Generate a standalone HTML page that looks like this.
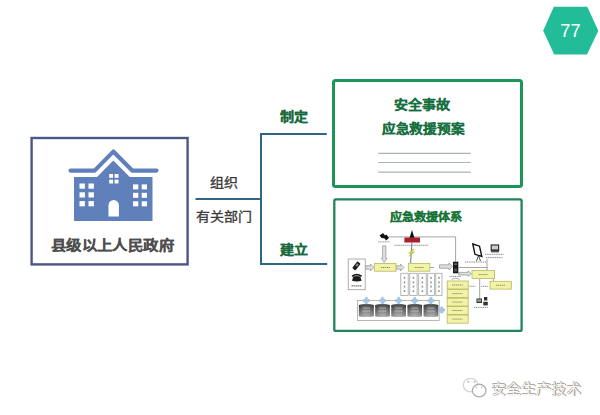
<!DOCTYPE html>
<html lang="zh-CN">
<head>
<meta charset="utf-8">
<style>
html,body{margin:0;padding:0;}
body{width:600px;height:415px;position:relative;overflow:hidden;background:#fff;font-family:"Liberation Sans",sans-serif;}
.t{position:absolute;white-space:nowrap;line-height:1;}
.c{transform:scaleY(0.92);transform-origin:50% 55%;}
svg{position:absolute;left:0;top:0;}
</style>
</head>
<body>
<svg width="600" height="415" viewBox="0 0 600 415">
  <!-- hexagon -->
  <polygon points="553.8,6.7 587.3,6.7 598.3,30.7 587,54.6 554.2,54.6 543.2,30.7" fill="#22bd98"/>
  <!-- left box -->
  <rect x="31.6" y="138" width="156" height="126.4" fill="none" stroke="#4b5887" stroke-width="2.4"/>
  <!-- house -->
  <g fill="#6080bc">
    <path d="M70.5,170.6 L94.6,170.6 L113.3,151.6 L132.2,170.6 L156.5,170.6" fill="none" stroke="#6080bc" stroke-width="4.2" stroke-linecap="round" stroke-linejoin="round"/>
    <path d="M74,177 L97,177 L113.3,160.6 L129.8,177 L152.5,177 L152.5,221 L74,221 Z"/>
  </g>
  <g fill="#fff">
    <rect x="79.5" y="183.5" width="5.4" height="5.2"/><rect x="88.5" y="183.5" width="5.4" height="5.2"/>
    <rect x="79.5" y="192.3" width="5.4" height="5.2"/><rect x="88.5" y="192.3" width="5.4" height="5.2"/>
    <rect x="79.5" y="201.1" width="5.4" height="5.2"/><rect x="88.5" y="201.1" width="5.4" height="5.2"/>
    <rect x="133" y="184.4" width="5.3" height="5"/><rect x="141.7" y="184.4" width="5.3" height="5"/>
    <rect x="133" y="192.8" width="5.3" height="5"/><rect x="141.7" y="192.8" width="5.3" height="5"/>
    <rect x="133" y="201.3" width="5.3" height="5"/><rect x="141.7" y="201.3" width="5.3" height="5"/>
    <rect x="109.2" y="174" width="3.9" height="3.8"/><rect x="114.6" y="174" width="3.9" height="3.8"/>
    <rect x="109.2" y="179.7" width="3.9" height="3.8"/><rect x="114.6" y="179.7" width="3.9" height="3.8"/>
    <path d="M108.5,216.5 L108.5,205.5 A5.2,5.5 0 0 1 118.9,205.5 L118.9,216.5 Z"/>
  </g>
  <!-- connectors -->
  <g stroke="#2e6686" stroke-width="2" fill="none">
    <line x1="195.5" y1="199" x2="261" y2="199"/>
    <polyline points="326.8,134 261,134 261,264 327.2,264"/>
  </g>
  <!-- right box 1 -->
  <rect x="333.5" y="80.5" width="188" height="106" rx="2" fill="none" stroke="#1b9658" stroke-width="3"/>
  <g stroke="#a9b5b5" stroke-width="1.2">
    <line x1="378.2" y1="153.3" x2="470.8" y2="153.3"/>
    <line x1="378.2" y1="162.5" x2="470.8" y2="162.5"/>
    <line x1="378.2" y1="172.1" x2="470.8" y2="172.1"/>
  </g>
  <!-- right box 2 -->
  <rect x="334.3" y="199.4" width="187.3" height="131.5" rx="1.5" fill="none" stroke="#22845a" stroke-width="2.3"/>

  <!-- diagram -->
  <defs>
    <linearGradient id="cyl" x1="0" x2="0" y1="0" y2="1">
      <stop offset="0" stop-color="#333"/>
      <stop offset="0.4" stop-color="#6e6e6e"/>
      <stop offset="1" stop-color="#b2b2b2"/>
    </linearGradient>
    <linearGradient id="cylh" x1="0" x2="1" y1="0" y2="0">
      <stop offset="0" stop-color="#000" stop-opacity="0.25"/>
      <stop offset="0.5" stop-color="#fff" stop-opacity="0.08"/>
      <stop offset="1" stop-color="#000" stop-opacity="0.25"/>
    </linearGradient>
  </defs>
  <g fill="none" stroke="#9c9c9c" stroke-width="0.9">
    <polyline points="388.5,236.9 455.6,236.9 455.6,261.7"/>
    <line x1="411.9" y1="242.5" x2="410.6" y2="263" stroke="#666"/>
    <line x1="458.5" y1="267.5" x2="487.5" y2="267.5"/>
    <line x1="487" y1="258.8" x2="487" y2="270.4"/>
    <line x1="479.7" y1="278.4" x2="479.7" y2="299"/>
    <line x1="493.5" y1="278.4" x2="493.5" y2="281"/>
    <line x1="430" y1="267.5" x2="434" y2="267.5"/>
  </g>
  <!-- hollow arrows -->
  <g fill="#e0e0e0" stroke="#9a9a9a" stroke-width="0.8">
    <path d="M382.6,245.8 L385.8,245.8 L385.8,258.3 L387.1,258.3 L384.2,262.4 L381.3,258.3 L382.6,258.3 Z"/>
    <path d="M365.8,265.8 L370.5,265.8 L370.5,264 L374,267.5 L370.5,271 L370.5,269.2 L365.8,269.2 Z"/>
    <path d="M396.3,265.8 L400.5,265.8 L400.5,264 L404,267.5 L400.5,271 L400.5,269.2 L396.3,269.2 Z"/>
    <path d="M439.5,264.8 L449,264.8 L449,263 L452.6,266.5 L449,270 L449,268.2 L439.5,268.2 Z"/>
    <path d="M458.8,272.4 L468,272.4 L468,271 L471.5,273.7 L468,276.4 L468,275 L458.8,275 Z"/>
  </g>
  <!-- yellow boxes -->
  <g fill="#f1f3a8" stroke="#b8b85c" stroke-width="0.8">
    <rect x="374.6" y="263.4" width="21.4" height="7.8"/>
    <rect x="408.3" y="263.4" width="21.5" height="7.8"/>
    <rect x="472" y="270.6" width="22.6" height="7.8"/>
    <rect x="490" y="281.3" width="21.3" height="7.8"/>
    <rect x="447.2" y="281" width="21" height="8"/>
    <rect x="447.2" y="289.6" width="21" height="8"/>
    <rect x="447.2" y="298.2" width="21" height="7.8"/>
    <rect x="447.2" y="306.6" width="21" height="7.8"/>
    <rect x="447.2" y="315" width="21" height="8.2"/>
  </g>
  <!-- tiny text marks in yellow boxes -->
  <g stroke="#9a8a55" stroke-width="1" stroke-dasharray="1.3 0.6">
    <line x1="381" y1="267.5" x2="390" y2="267.5"/>
    <line x1="414.5" y1="267.5" x2="423.5" y2="267.5"/>
    <line x1="478.5" y1="274.6" x2="488" y2="274.6"/>
    <line x1="496" y1="285.3" x2="505.5" y2="285.3"/>
    <line x1="452" y1="285" x2="463" y2="285"/>
    <line x1="452.5" y1="293.6" x2="462.5" y2="293.6"/>
    <line x1="452.5" y1="302.1" x2="462.5" y2="302.1"/>
    <line x1="452.5" y1="310.5" x2="462.5" y2="310.5"/>
    <line x1="452.5" y1="319.1" x2="462.5" y2="319.1"/>
  </g>
  <!-- phones box -->
  <rect x="348.2" y="259" width="17" height="30.7" fill="#fff" stroke="#9a9a9a" stroke-width="0.8"/>
  <g fill="#1c1c1c">
    <rect x="354.3" y="261.6" width="4.2" height="8.6" rx="1" transform="rotate(38 356.4 265.9)"/>
    <rect x="355.2" y="263.4" width="2.3" height="2.6" fill="#888" transform="rotate(38 356.4 265.9)"/>
    <path d="M352,280.8 L353.3,276.6 Q356.8,275.3 360.3,276.6 L361.6,280.8 Q356.8,282.3 352,280.8 Z"/>
    <path d="M351.6,275.6 Q356.8,271.8 362,275.6 L361.2,277 Q356.8,274.2 352.4,277 Z"/>
  </g>
  <line x1="351.5" y1="285.8" x2="362" y2="285.8" stroke="#7a7a7a" stroke-width="1.2" stroke-dasharray="1.5 0.5"/>
  <!-- vertical columns -->
  <g fill="#fff" stroke="#a5a5a5" stroke-width="0.8">
    <rect x="400.8" y="273.3" width="7.4" height="22.2"/>
    <rect x="409.8" y="273.3" width="7.3" height="22.2"/>
    <rect x="418.7" y="273.3" width="7.5" height="22.2"/>
    <rect x="427.7" y="273.3" width="6.7" height="22.2"/>
    <rect x="435.8" y="273.3" width="6.2" height="22.2"/>
  </g>
  <g stroke="#8a8a8a" stroke-width="1.5" stroke-dasharray="1.8 2.6">
    <line x1="404.5" y1="277" x2="404.5" y2="292"/>
    <line x1="413.4" y1="277" x2="413.4" y2="292"/>
    <line x1="422.4" y1="277" x2="422.4" y2="292"/>
    <line x1="431" y1="277" x2="431" y2="292"/>
    <line x1="438.9" y1="277" x2="438.9" y2="292"/>
  </g>
  <!-- cylinders container -->
  <rect x="357.5" y="300.5" width="81.7" height="20" fill="#fff" stroke="#a5a5a5" stroke-width="0.8"/>
  <g><path d="M358.9,305 Q366.35,302.8 373.8,305 L373.8,316.2 Q366.35,318 358.9,316.2 Z" fill="url(#cyl)"/><path d="M358.9,305 Q366.35,302.8 373.8,305 L373.8,316.2 Q366.35,318 358.9,316.2 Z" fill="url(#cylh)"/><path d="M375.2,305 Q382.5,302.8 389.8,305 L389.8,316.2 Q382.5,318 375.2,316.2 Z" fill="url(#cyl)"/><path d="M375.2,305 Q382.5,302.8 389.8,305 L389.8,316.2 Q382.5,318 375.2,316.2 Z" fill="url(#cylh)"/><path d="M391.3,305 Q398.6,302.8 405.9,305 L405.9,316.2 Q398.6,318 391.3,316.2 Z" fill="url(#cyl)"/><path d="M391.3,305 Q398.6,302.8 405.9,305 L405.9,316.2 Q398.6,318 391.3,316.2 Z" fill="url(#cylh)"/><path d="M407.5,305 Q414.75,302.8 422,305 L422,316.2 Q414.75,318 407.5,316.2 Z" fill="url(#cyl)"/><path d="M407.5,305 Q414.75,302.8 422,305 L422,316.2 Q414.75,318 407.5,316.2 Z" fill="url(#cylh)"/><path d="M423.6,305 Q430.95000000000005,302.8 438.3,305 L438.3,316.2 Q430.95000000000005,318 423.6,316.2 Z" fill="url(#cyl)"/><path d="M423.6,305 Q430.95000000000005,302.8 438.3,305 L438.3,316.2 Q430.95000000000005,318 423.6,316.2 Z" fill="url(#cylh)"/></g>
  <g fill="#d8d8d8" opacity="0.55"><rect x="362.85" y="307.5" width="7" height="1.1"/><rect x="362.35" y="310.5" width="8" height="1.1"/><rect x="379.0" y="307.5" width="7" height="1.1"/><rect x="378.5" y="310.5" width="8" height="1.1"/><rect x="395.1" y="307.5" width="7" height="1.1"/><rect x="394.6" y="310.5" width="8" height="1.1"/><rect x="411.25" y="307.5" width="7" height="1.1"/><rect x="410.75" y="310.5" width="8" height="1.1"/><rect x="427.45000000000005" y="307.5" width="7" height="1.1"/><rect x="426.95000000000005" y="310.5" width="8" height="1.1"/></g>
  <!-- blue diamonds -->
  <g fill="#a9c8e6" stroke="#7ea6cf" stroke-width="0.4"><path d="M366.35,296.80 L367.95,298.40 L367.25,298.40 L367.25,299.70 L368.55,299.70 L368.55,299.00 L370.15,300.60 L368.55,302.20 L368.55,301.50 L367.25,301.50 L367.25,302.80 L367.95,302.80 L366.35,304.40 L364.75,302.80 L365.45,302.80 L365.45,301.50 L364.15,301.50 L364.15,302.20 L362.55,300.60 L364.15,299.00 L364.15,299.70 L365.45,299.70 L365.45,298.40 L364.75,298.40 Z"/><path d="M382.50,296.80 L384.10,298.40 L383.40,298.40 L383.40,299.70 L384.70,299.70 L384.70,299.00 L386.30,300.60 L384.70,302.20 L384.70,301.50 L383.40,301.50 L383.40,302.80 L384.10,302.80 L382.50,304.40 L380.90,302.80 L381.60,302.80 L381.60,301.50 L380.30,301.50 L380.30,302.20 L378.70,300.60 L380.30,299.00 L380.30,299.70 L381.60,299.70 L381.60,298.40 L380.90,298.40 Z"/><path d="M398.60,296.80 L400.20,298.40 L399.50,298.40 L399.50,299.70 L400.80,299.70 L400.80,299.00 L402.40,300.60 L400.80,302.20 L400.80,301.50 L399.50,301.50 L399.50,302.80 L400.20,302.80 L398.60,304.40 L397.00,302.80 L397.70,302.80 L397.70,301.50 L396.40,301.50 L396.40,302.20 L394.80,300.60 L396.40,299.00 L396.40,299.70 L397.70,299.70 L397.70,298.40 L397.00,298.40 Z"/><path d="M414.75,296.80 L416.35,298.40 L415.65,298.40 L415.65,299.70 L416.95,299.70 L416.95,299.00 L418.55,300.60 L416.95,302.20 L416.95,301.50 L415.65,301.50 L415.65,302.80 L416.35,302.80 L414.75,304.40 L413.15,302.80 L413.85,302.80 L413.85,301.50 L412.55,301.50 L412.55,302.20 L410.95,300.60 L412.55,299.00 L412.55,299.70 L413.85,299.70 L413.85,298.40 L413.15,298.40 Z"/><path d="M430.95,296.80 L432.55,298.40 L431.85,298.40 L431.85,299.70 L433.15,299.70 L433.15,299.00 L434.75,300.60 L433.15,302.20 L433.15,301.50 L431.85,301.50 L431.85,302.80 L432.55,302.80 L430.95,304.40 L429.35,302.80 L430.05,302.80 L430.05,301.50 L428.75,301.50 L428.75,302.20 L427.15,300.60 L428.75,299.00 L428.75,299.70 L430.05,299.70 L430.05,298.40 L429.35,298.40 Z"/><path d="M441.70,306.40 L443.30,308.00 L442.60,308.00 L442.60,309.10 L443.70,309.10 L443.70,308.40 L445.30,310.00 L443.70,311.60 L443.70,310.90 L442.60,310.90 L442.60,312.00 L443.30,312.00 L441.70,313.60 L440.10,312.00 L440.80,312.00 L440.80,310.90 L439.70,310.90 L439.70,311.60 L438.10,310.00 L439.70,308.40 L439.70,309.10 L440.80,309.10 L440.80,308.00 L440.10,308.00 Z"/></g>
  <!-- satellite -->
  <g fill="#111">
    <path d="M379.5,235.5 L383,233 L385.5,236 L382,238.5 Z"/>
    <path d="M383.5,236.5 L386.5,234.5 L389,238 L386,240.5 Z"/>
    <circle cx="384.5" cy="237" r="1.6"/>
  </g>
  <line x1="378" y1="241.8" x2="389.5" y2="241.8" stroke="#8a8a8a" stroke-width="0.9" stroke-dasharray="1.2 0.5"/>
  <!-- red antenna -->
  <rect x="404.4" y="237.5" width="15.6" height="5" fill="#a8202c"/>
  <path d="M411.9,230 L414.4,237.8 L409.6,237.8 Z" fill="#111"/>
  <line x1="394.5" y1="245.3" x2="428.7" y2="245.3" stroke="#8a8a8a" stroke-width="1" stroke-dasharray="1.3 0.7"/>
  <path d="M412.8,249 L408.8,253.2 L411.6,253.2 L409,256.2 L414.6,252 L411.9,252 L414.3,249 Z" fill="#c2dc3c" stroke="#9ab52a" stroke-width="0.4"/>
  <!-- server -->
  <rect x="453" y="261.7" width="5.3" height="11.6" fill="#1a1a1a"/>
  <rect x="454.2" y="263.5" width="2.8" height="1.2" fill="#888"/>
  <rect x="454.2" y="268.5" width="2.8" height="3" fill="#555"/>
  <line x1="449.4" y1="276.4" x2="461" y2="276.4" stroke="#8a8a8a" stroke-width="1" stroke-dasharray="1.2 0.6"/>
  <path d="M451.5,279.3 Q455.5,276.8 459.5,279.3" fill="none" stroke="#999" stroke-width="0.8"/>
  <!-- projector -->
  <path d="M472.8,244 L479.5,246.2 L481.8,256.5 L475,254.3 Z" fill="#fff" stroke="#111" stroke-width="1.4"/>
  <path d="M478.5,255.5 L476.5,261 M478.5,255.5 L480.5,261" stroke="#222" stroke-width="0.8"/>
  <line x1="465" y1="262" x2="486" y2="262" stroke="#8a8a8a" stroke-width="1" stroke-dasharray="1.2 0.6"/>
  <!-- monitor -->
  <rect x="490.6" y="244.4" width="8.6" height="6.6" fill="#333"/>
  <rect x="491.8" y="245.6" width="6.2" height="3.8" fill="#cfcfcf"/>
  <rect x="491" y="251" width="8" height="1.4" fill="#555"/>
  <line x1="484.8" y1="254.3" x2="503.6" y2="254.3" stroke="#8a8a8a" stroke-width="1" stroke-dasharray="1.2 0.6"/>
  <line x1="486" y1="257.6" x2="502.5" y2="257.6" stroke="#8a8a8a" stroke-width="1" stroke-dasharray="1.2 0.6"/>
  <!-- small labels -->
  <line x1="469.6" y1="286.3" x2="475.4" y2="286.3" stroke="#8a8a8a" stroke-width="1" stroke-dasharray="1.2 0.6"/>
  <line x1="481.2" y1="286.3" x2="488.4" y2="286.3" stroke="#8a8a8a" stroke-width="1" stroke-dasharray="1.2 0.6"/>
  <!-- computers -->
  <rect x="476.5" y="298.5" width="5.5" height="4.5" fill="#333"/>
  <rect x="477.3" y="299.3" width="3.9" height="2.5" fill="#999"/>
  <rect x="484" y="297" width="3.3" height="3.5" fill="#333"/>
  <rect x="483.3" y="301.8" width="4.5" height="3.6" fill="#333"/>
  <line x1="474" y1="307.4" x2="488" y2="307.4" stroke="#8a8a8a" stroke-width="1" stroke-dasharray="1.2 0.6"/>
</svg>
<div class="t" style="left:560.3px;top:21.9px;font-size:18.2px;color:#fff;">77</div>
<div class="t c" style="left:50.7px;top:237px;font-size:15.4px;letter-spacing:0.42px;font-weight:bold;color:#4d4d4d;-webkit-text-stroke:0.2px #4d4d4d;">县级以上人民政府</div>
<div class="t c" style="left:210px;top:175.3px;font-size:14px;font-weight:500;color:#3a3a3a;-webkit-text-stroke:0.35px #3a3a3a;">组织</div>
<div class="t c" style="left:196px;top:208.6px;font-size:14px;font-weight:500;color:#3a3a3a;-webkit-text-stroke:0.35px #3a3a3a;">有关部门</div>
<div class="t c" style="left:280px;top:109px;font-size:14px;font-weight:bold;color:#1b6b3f;-webkit-text-stroke:0.25px #1b6b3f;">制定</div>
<div class="t c" style="left:280px;top:242.4px;font-size:14px;font-weight:bold;color:#1b6b3f;-webkit-text-stroke:0.25px #1b6b3f;">建立</div>
<div class="t c" style="left:394.2px;top:97px;font-size:14px;font-weight:bold;color:#17703f;-webkit-text-stroke:0.25px #17703f;">安全事故</div>
<div class="t c" style="left:381.8px;top:122.1px;font-size:13.65px;letter-spacing:-0.25px;font-weight:bold;color:#17703f;-webkit-text-stroke:0.25px #17703f;">应急救援预案</div>
<div class="t c" style="left:390px;top:210.6px;font-size:12.2px;font-weight:bold;color:#187538;-webkit-text-stroke:0.25px #187538;">应急救援体系</div>
<div class="t c" style="left:491px;top:381px;font-size:15px;color:#f6f6f6;text-shadow:-0.4px -0.2px 0.6px #aaa,0.6px 0.7px 0.8px #666;">安全生产技术</div>
<svg width="600" height="415" viewBox="0 0 600 415" style="position:absolute;left:0;top:0">
  <ellipse cx="470.6" cy="385.1" rx="7.3" ry="6.8" fill="#fff" stroke="#d4d4d4" stroke-width="1.3"/>
  <ellipse cx="479.2" cy="390.6" rx="6.8" ry="6.3" fill="#fff" stroke="#b0b0b0" stroke-width="1.4"/>
  <g fill="#bdbdbd"><circle cx="468.4" cy="381.8" r="1"/><circle cx="474.5" cy="381.8" r="1"/><circle cx="476.5" cy="387.5" r="0.8"/><circle cx="481.6" cy="387.5" r="0.8"/></g>
</svg>
</body>
</html>
